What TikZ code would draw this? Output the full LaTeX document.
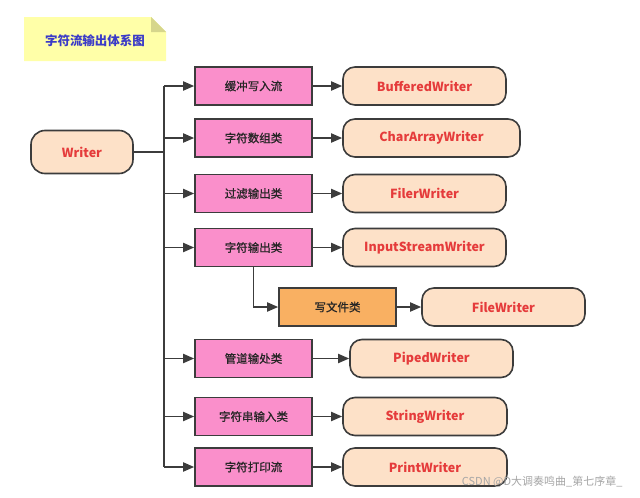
\documentclass[tikz,border=0pt]{standalone}
\usepackage{fontspec}
\setmainfont{Noto Sans CJK SC}
\newfontfamily\medfont{Noto Sans CJK SC}[FakeBold=0.8]
\usetikzlibrary{arrows.meta}
\definecolor{bd}{HTML}{3C3C3C}
\definecolor{pinkc}{HTML}{FA8FCB}
\definecolor{peach}{HTML}{FDE1C8}
\definecolor{orangec}{HTML}{F9B062}
\definecolor{redt}{HTML}{E53B3B}
\definecolor{notec}{HTML}{FFFFA8}
\definecolor{foldc}{HTML}{D6D68C}
\definecolor{titlec}{HTML}{3B3BC8}
\tikzset{
  cls/.style={draw=bd, line width=1.6pt, fill=pinkc, minimum width=117pt, minimum height=38pt, inner sep=0pt, text=black!85, font=\medfont\fontsize{11.5}{13}\selectfont},
  impl/.style={draw=bd, line width=1.6pt, fill=peach, rounded corners=12pt, minimum height=38pt, inner sep=0pt, text=redt, font=\bfseries\fontsize{12.5}{14}\selectfont},
  conn/.style={draw=bd, line width=1.8pt},
  arr/.style={conn, -{Triangle[length=11pt,width=9pt]}}
}
\begin{document}
\begin{tikzpicture}[x=1pt,y=-1pt]
\path[use as bounding box, fill=white] (0,0) rectangle (640,498);
% title note
\fill[notec] (24,17) -- (151,17) -- (166,32) -- (166,61) -- (24,61) -- cycle;
\fill[foldc] (151,17) -- (166,32) -- (151,32) -- cycle;
\node[text=titlec, font=\bfseries\fontsize{12.5}{14}\selectfont] (title) at (95,41) {字符流输出体系图};
% root
\node[impl, minimum width=102pt, minimum height=43pt, rounded corners=14pt] (writer) at (82,152) {Writer};
% classes
\node[cls] (c1) at (253.5,86) {缓冲写入流};
\node[cls] (c2) at (253.5,138) {字符数组类};
\node[cls] (c3) at (253.5,193.5) {过滤输出类};
\node[cls] (c4) at (253.5,247.5) {字符输出类};
\node[cls, fill=orangec] (c5) at (337.5,307) {写文件类};
\node[cls] (c6) at (253.5,358.5) {管道输处类};
\node[cls] (c7) at (253.5,416.5) {字符串输入类};
\node[cls] (c8) at (253.5,467) {字符打印流};
% implementations
\node[impl, minimum width=163pt] (i1) at (424.5,86) {BufferedWriter};
\node[impl, minimum width=177pt] (i2) at (431.5,138) {CharArrayWriter};
\node[impl, minimum width=163pt] (i3) at (424.5,193.5) {FilerWriter};
\node[impl, minimum width=163pt] (i4) at (424.5,247.5) {InputStreamWriter};
\node[impl, minimum width=163pt] (i5) at (503.5,307) {FileWriter};
\node[impl, minimum width=163pt] (i6) at (431.5,358.5) {PipedWriter};
\node[impl, minimum width=164pt] (i7) at (425,416.5) {StringWriter};
\node[impl, minimum width=164pt] (i8) at (425,467) {PrintWriter};
% trunk
\coordinate (j) at (164,152);
\coordinate (ttop) at (164,86);
\coordinate (tbot) at (164,467);
\draw[conn] (writer.east) -- (j);
\draw[conn] (ttop) -- (tbot);
\foreach \c in {c1,c2,c3,c4,c6,c7,c8}{
  \draw[arr] (\c.west -| j) -- (\c.west);
}
\foreach \a/\b in {c1/i1,c2/i2,c3/i3,c4/i4,c5/i5,c6/i6,c7/i7,c8/i8}{
  \draw[arr] (\a.east) -- (\b.west);
}
\draw[arr] (c4.south) |- (c5.west);
% watermark
\node[text=black!35, font=\fontsize{11}{12}\selectfont, anchor=east] (wm) at (626,482) {CSDN @D大调奏鸣曲\_第七序章\_};
\end{tikzpicture}
\end{document}
